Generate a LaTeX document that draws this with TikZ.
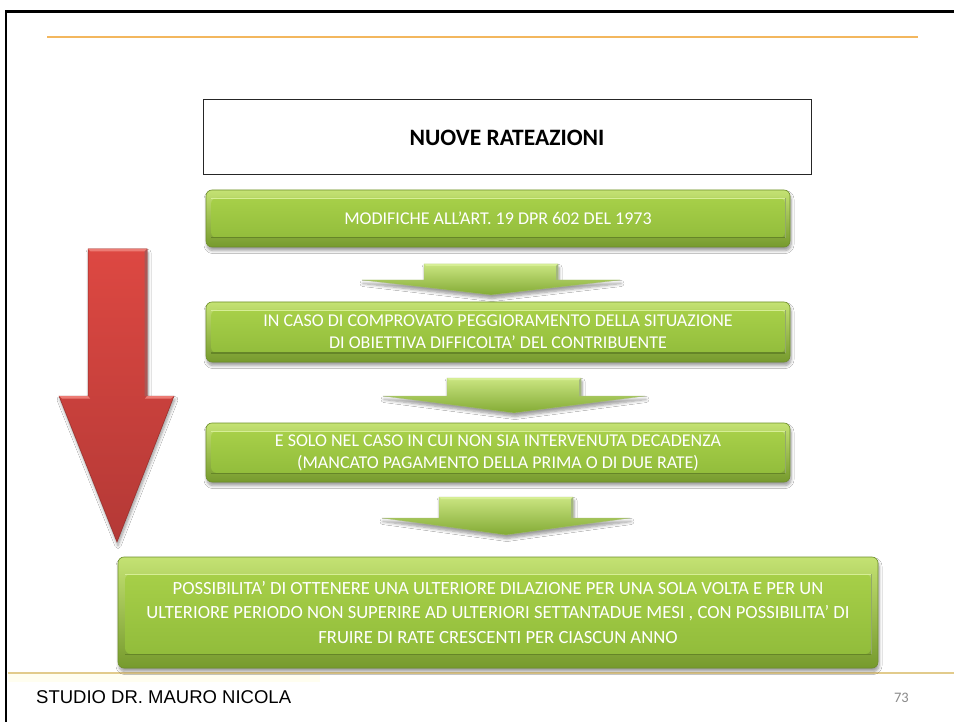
\documentclass[tikz,border=0pt]{standalone}
\usepackage{fontspec}
\setmainfont{Carlito}
\newfontfamily\footfont{Liberation Sans}
\usetikzlibrary{calc,shadows.blur}

\definecolor{gOutTop}{HTML}{C4E273}
\definecolor{gOutBot}{HTML}{769A2D}
\definecolor{gInTop}{HTML}{ABD34B}
\definecolor{gInBot}{HTML}{8EB939}
\definecolor{gHi}{HTML}{D6EE95}
\definecolor{gLo}{HTML}{658528}
\definecolor{gEdge}{HTML}{6E8F2A}
\definecolor{rTop}{HTML}{DD4842}
\definecolor{rBot}{HTML}{B43936}
\definecolor{rHi}{HTML}{EC7B74}
\definecolor{rLo}{HTML}{962D2A}
\definecolor{topRule}{HTML}{F3B75E}
\definecolor{footRule}{HTML}{E2CB8C}
\definecolor{pageGray}{HTML}{8A8A8A}

\tikzset{
  softshadow/.style={blur shadow={shadow xshift=1pt, shadow yshift=-3.5pt,
      shadow opacity=40, shadow blur steps=6, shadow blur radius=3pt}},
  gbox/.style={rounded corners=6pt, draw=gEdge, line width=0.6pt,
      top color=gOutTop, bottom color=gOutBot, text=white, align=center,
      inner sep=0pt, font=\fontsize{18}{22}\selectfont, softshadow},
  gface/.style n args={3}{path picture={
      \shade[top color=gInTop, bottom color=gInBot]
        ($(path picture bounding box.north west)+(#1,#2)$) rectangle
        ($(path picture bounding box.south east)+(-#1,-#3)$);
      \draw[gHi, line width=0.9pt]
        ($(path picture bounding box.north west)+(#1,#2)$) --
        ($(path picture bounding box.north east)+(-#1,#2)$);
      \draw[gLo, line width=1pt]
        ($(path picture bounding box.south west)+(#1,-#3)$) --
        ($(path picture bounding box.south east)+(-#1,-#3)$);
      \draw[gLo!70, line width=0.7pt]
        ($(path picture bounding box.south east)+(-#1,-#3)$) --
        ($(path picture bounding box.north east)+(-#1,#2)$);
  }},
  chev/.style={top color=gOutTop!90!white, bottom color=gInBot!92!black,
      draw=gEdge!60, line width=0.3pt, softshadow},
  redarrow/.style={top color=rTop, bottom color=rBot, draw=rLo, line width=0.5pt,
      softshadow},
  titlebox/.style={draw=black!85, line width=1pt, fill=white, inner sep=0pt,
      font=\bfseries\fontsize{23.5}{28}\selectfont}
}

% block arrow pointing down: centre x, top y, wing y, half shaft, half wing, tip y
\newcommand\downchevron[6]{%
  \path[chev] ({#1-#4},#2) -- ({#1+#4},#2) -- ({#1+#4},#3) -- ({#1+#5},#3)
    -- (#1,#6) -- ({#1-#5},#3) -- ({#1-#4},#3) -- cycle;
  \fill[gHi] ({#1-#4},#2) -- ({#1+#4},#2) -- ({#1+#4-2},{#2+2}) -- ({#1-#4+2},{#2+2}) -- cycle;
  \fill[gLo!60] ({#1+#4},#2) -- ({#1+#4},#3) -- ({#1+#4-2},#3) -- ({#1+#4-2},{#2+2}) -- cycle;
}

\begin{document}
\begin{tikzpicture}[x=1pt, y=-1pt]
  \useasboundingbox (0,0) rectangle (954,722);
  \fill[white] (0,0) rectangle (954,722);

  % slide frame and rules
  \draw[black, line width=2.2pt] (6,722) -- (6,11.5) -- (954,11.5);
  \draw[topRule, line width=2.6pt] (47,37) -- (918,37);
  \fill[yellow!6] (8,674) rectangle (320,682);
  \draw[footRule, line width=1.2pt] (7.5,673) -- (954,673);

  % heading
  \node[titlebox, minimum width=608pt, minimum height=75pt] (title) at (507,137.5) {NUOVE RATEAZIONI};

  % big red arrow on the left
  \path[redarrow] (88,249) -- (147,249) -- (147,396) -- (174,396) -- (117,542)
    -- (59,396) -- (88,396) -- cycle;
  \fill[rHi] (88,249) -- (147,249) -- (144.5,251.5) -- (90.5,251.5) -- cycle;
  \fill[rHi] (59,396) -- (88,396) -- (90,398.5) -- (62,398.5) -- cycle;
  \fill[rHi] (147,396) -- (174,396) -- (171,398.5) -- (145,398.5) -- cycle;
  \fill[rLo!80] (147,249) -- (147,396) -- (144.5,396) -- (144.5,251.5) -- cycle;

  % steps
  \node[gbox, gface={5}{8}{9}, minimum width=584pt, minimum height=57pt] (b1) at (498,218.5)
    {MODIFICHE ALL’ART. 19 DPR 602 DEL 1973};
  \downchevron{491}{264}{280}{67}{129}{295}

  \node[gbox, gface={5}{8}{9}, minimum width=584pt, minimum height=60pt] (b2) at (498,332)
    {IN CASO DI COMPROVATO PEGGIORAMENTO DELLA SITUAZIONE\\DI OBIETTIVA DIFFICOLTA’ DEL CONTRIBUENTE};
  \downchevron{514}{378}{396}{67}{131}{413}

  \node[gbox, gface={5}{8}{9}, minimum width=584pt, minimum height=59pt] (b3) at (498,452.5)
    {E SOLO NEL CASO IN CUI NON SIA INTERVENUTA  DECADENZA\\(MANCATO PAGAMENTO DELLA PRIMA O DI DUE RATE)};
  \downchevron{506}{497}{518}{67}{124}{535}

  \node[gbox, gface={7}{17}{14}, minimum width=760pt, minimum height=111pt,
        font=\fontsize{18.6}{24.5}\selectfont] (b4) at (498,612.5)
    {POSSIBILITA’ DI OTTENERE UNA ULTERIORE DILAZIONE PER UNA SOLA VOLTA E PER UN\\
     ULTERIORE PERIODO NON SUPERIRE AD ULTERIORI SETTANTADUE MESI , CON POSSIBILITA’ DI\\
     FRUIRE DI RATE CRESCENTI PER CIASCUN ANNO};

  % footer
  \node[anchor=base west, inner sep=0pt, font=\footfont\fontsize{18.5}{20}\selectfont] (studio) at (36,703)
    {STUDIO DR. MAURO NICOLA};
  \node[anchor=base east, inner sep=0pt, text=pageGray, font=\fontsize{14.5}{16}\selectfont] (page) at (909,702) {73};
\end{tikzpicture}
\end{document}
